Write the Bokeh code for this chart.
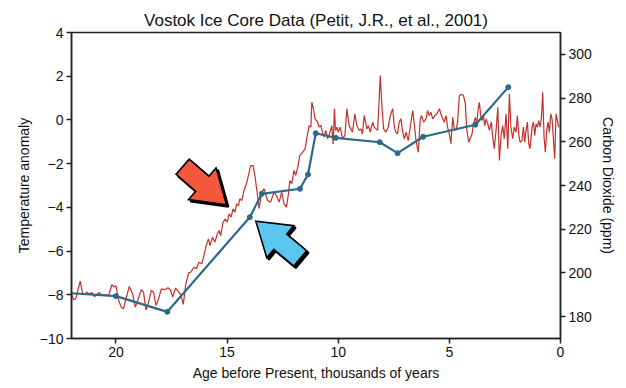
import math
from bokeh.plotting import figure
from bokeh.models import Range1d, LinearAxis, FixedTicker
from bokeh.embed import file_html
from bokeh.resources import INLINE

# ---------------- data ----------------
# Temperature anomaly (deg C) vs age (thousands of years before present)
temp_age = [22.0, 21.91, 21.81, 21.61, 21.50, 21.38, 21.31, 21.20, 21.09, 20.96, 20.78, 20.64,
            20.45, 20.33, 20.18, 20.09, 20.00, 19.88, 19.76, 19.66, 19.55, 19.40, 19.25, 19.13,
            19.01, 18.86, 18.76, 18.65, 18.53, 18.41, 18.31, 18.20, 18.08, 17.96, 17.81, 17.66,
            17.55, 17.45, 17.32, 17.09, 16.97, 16.86, 16.73, 16.64, 16.49, 16.38, 16.27, 16.14,
            16.04, 15.96, 15.84, 15.77, 15.66, 15.55, 15.44, 15.36, 15.29, 15.18, 15.09, 14.99,
            14.91, 14.82, 14.73, 14.64, 14.57, 14.49, 14.43, 14.34, 14.24, 14.13, 14.04, 13.94,
            13.83, 13.74, 13.68, 13.56, 13.44, 13.34, 13.18, 13.04, 12.89, 12.78, 12.66, 12.54,
            12.44, 12.33, 12.24, 12.18, 12.09, 11.99, 11.91, 11.82, 11.73, 11.61, 11.49, 11.38,
            11.31, 11.23, 11.19, 11.13, 11.04, 10.93, 10.86, 10.78, 10.71, 10.64, 10.56, 10.48,
            10.41, 10.29, 10.23, 10.17, 10.12, 10.06, 10.00, 9.91, 9.81, 9.70, 9.61, 9.51,
            9.43, 9.36, 9.25, 9.16, 9.06, 8.98, 8.91, 8.83, 8.71, 8.64, 8.56, 8.45,
            8.38, 8.23, 8.16, 8.11, 8.05, 7.96, 7.86, 7.75, 7.66, 7.55, 7.48, 7.41,
            7.33, 7.26, 7.18, 7.10, 7.03, 6.95, 6.85, 6.76, 6.65, 6.58, 6.50, 6.40,
            6.31, 6.25, 6.16, 6.05, 5.98, 5.91, 5.83, 5.75, 5.65, 5.56, 5.45, 5.38,
            5.30, 5.23, 5.15, 5.08, 4.99, 4.93, 4.85, 4.78, 4.70, 4.63, 4.55, 4.48,
            4.37, 4.28, 4.22, 4.13, 4.07, 3.98, 3.92, 3.83, 3.77, 3.71, 3.65, 3.59,
            3.53, 3.47, 3.41, 3.35, 3.27, 3.20, 3.11, 3.05, 2.98, 2.90, 2.82, 2.75,
            2.68, 2.60, 2.53, 2.45, 2.37, 2.30, 2.23, 2.15, 2.08, 2.00, 1.94, 1.88,
            1.82, 1.73, 1.67, 1.61, 1.55, 1.49, 1.43, 1.37, 1.28, 1.22, 1.16, 1.10,
            1.04, 0.98, 0.92, 0.86, 0.80, 0.74, 0.68, 0.62, 0.56, 0.50, 0.44, 0.38,
            0.32, 0.26, 0.20, 0.14, 0.08]
temp_anomaly = [-7.94, -8.23, -8.18, -7.38, -7.93, -7.96, -7.88, -7.96, -7.90, -8.08, -7.90, -8.00,
                -8.00, -8.03, -7.53, -7.65, -7.58, -8.26, -8.57, -8.64, -8.18, -7.62, -7.96, -8.57,
                -8.23, -7.77, -7.88, -8.69, -8.34, -7.80, -7.88, -8.49, -8.18, -7.73, -7.77, -7.68,
                -7.77, -8.11, -7.70, -7.98, -8.44, -7.53, -7.00, -6.97, -6.74, -6.81, -6.51, -6.58,
                -6.20, -5.82, -5.44, -5.75, -5.37, -5.59, -5.21, -5.06, -5.29, -4.68, -4.53, -4.68,
                -4.30, -4.45, -4.07, -4.22, -3.84, -3.92, -3.61, -3.69, -3.23, -2.92, -2.54, -2.09,
                -2.09, -2.62, -3.08, -4.05, -3.31, -3.15, -3.69, -3.76, -3.31, -3.46, -3.76, -3.31,
                -3.84, -3.99, -3.38, -2.77, -2.92, -2.31, -2.54, -2.16, -1.63, -1.48, -1.32, -0.64,
                -0.26, -0.33, 0.81, 0.58, 0.05, -0.10, -0.33, -0.25, -0.56, -0.79, -0.48, -0.86,
                -0.71, -0.26, -1.10, 0.51, -0.48, -0.33, -0.56, -0.33, -0.86, -0.71, 0.51, -0.26,
                -0.41, -0.56, 0.28, -0.26, -0.48, -0.41, -0.64, 0.20, -0.41, -0.26, -0.56, -0.10,
                -0.33, -0.48, 0.89, 2.03, 0.89, -0.41, -0.56, -0.33, 0.20, 0.51, -0.26, -0.56,
                -0.64, -0.10, 0.05, -0.56, -0.86, -0.56, -0.94, -0.33, 0.43, -0.18, -0.94, -1.48,
                0.05, 0.20, -0.10, 0.05, 0.43, 0.20, 0.35, 0.05, 0.20, 0.28, 0.51, 0.28,
                0.05, -0.10, 0.20, -0.33, -0.71, -1.09, 0.12, -0.41, -0.48, -0.10, 1.12, 1.16,
                1.14, 0.74, -0.41, -1.02, -0.86, -0.64, -0.18, 0.12, -0.18, 0.43, 0.81, 0.20,
                -0.03, 0.20, -0.26, 0.05, -0.18, -0.48, -0.10, -0.79, -1.32, -0.48, 0.58, -1.86,
                -0.79, -0.26, -0.86, 0.28, -1.32, 1.19, -0.33, -0.86, -0.33, -0.56, 0.20, -0.64,
                -1.02, -0.94, -0.33, -1.02, -0.48, -0.10, -1.09, -1.32, -0.33, -0.10, -0.71, -0.18,
                -0.33, -0.03, -0.33, 0.05, 1.27, -0.79, -1.48, -0.48, -0.10, -0.56, 0.28, 0.05,
                -0.86, -1.78, 0.28, -0.03, -0.33]

# Carbon dioxide (ppm) vs age (thousands of years before present)
co2_age = [22.0, 20.0, 17.69, 13.98, 13.44, 11.72, 11.36, 11.01, 10.11, 8.13, 7.33, 6.18, 3.83, 2.35]
co2_ppm = [190.7, 189.4, 182.2, 225.5, 236.2, 238.5, 245.0, 263.9, 261.8, 259.8, 254.8, 262.3, 267.8, 285.0]

x_ticks = [20, 15, 10, 5, 0]
temp_ticks = [4, 2, 0, -2, -4, -6, -8, -10]
co2_ticks = [180, 200, 220, 240, 260, 280, 300]

# annotation arrows: tip position (age, temperature), pointing direction (deg, screen), fill colour
arrow_tips = [(15.03, -3.88), (13.71, -4.63)]
arrow_back_dirs = [221.0, 40.0]   # direction from tip toward tail, screen degrees (y down)
arrow_colors = ["#f4583c", "#5bc7f1"]
# arrow outline template in pixels: u along tail direction, v across
arrow_u = [0, 32, 32, 58, 58, 32, 32]
arrow_v = [0, 21, 10, 10, -10, -10, -21]

FONT = "Liberation Sans"
FW, FH = 489, 306
X0, X1 = 22, 0
Y0, Y1 = -10, 4

p = figure(width=618, height=380, frame_width=FW, frame_height=FH,
           x_range=Range1d(X0, X1), y_range=Range1d(Y0, Y1),
           output_backend="svg", toolbar_location=None,
           min_border_left=71, min_border_right=58, min_border_top=32, min_border_bottom=42,
           title="Vostok Ice Core Data (Petit, J.R., et al., 2001)")
p.extra_y_ranges = {"co2": Range1d(170, 310)}

p.title.align = "center"
p.title.text_font = FONT
p.title.text_font_size = "17px"
p.title.text_font_style = "normal"
p.title.text_color = "#111111"
p.title.standoff = 6
p.grid.visible = False
p.background_fill_color = "white"
p.border_fill_color = "white"
p.outline_line_color = "#222222"
p.outline_line_width = 1.5

# temperature line
p.line(temp_age, temp_anomaly, line_color="#c4302b", line_width=1.2)

# CO2 line with points
p.line(co2_age, co2_ppm, y_range_name="co2", line_color="#2c6a8c", line_width=2.2)
p.scatter(co2_age[1:], co2_ppm[1:], y_range_name="co2", size=5, color="#2c6a8c")

# arrows
pxk = FW / (X0 - X1)
pxt = FH / (Y1 - Y0)
for (ta, tt), ang, col in zip(arrow_tips, arrow_back_dirs, arrow_colors):
    dx, dy = math.cos(math.radians(ang)), math.sin(math.radians(ang))
    sxs = [u * dx - v * dy for u, v in zip(arrow_u, arrow_v)]
    sys_ = [u * dy + v * dx for u, v in zip(arrow_u, arrow_v)]
    xs = [ta - sx / pxk for sx in sxs]
    ys = [tt - sy / pxt for sy in sys_]
    xs_sh = [ta - (sx + 2.0) / pxk for sx in sxs]
    ys_sh = [tt - (sy + 2.0) / pxt for sy in sys_]
    p.patch(xs_sh, ys_sh, fill_color="black", line_color="black", line_width=2)
    p.patch(xs, ys, fill_color=col, line_color="black", line_width=1.6, line_join="miter")

# axes styling
def style_axis(ax, ticks, nminor, label):
    ax.ticker = FixedTicker(ticks=ticks, num_minor_ticks=nminor)
    ax.axis_label = label
    ax.axis_label_text_font = FONT
    ax.axis_label_text_font_size = "14px"
    ax.axis_label_text_font_style = "normal"
    ax.axis_label_text_color = "#111111"
    ax.axis_label_standoff = 5
    ax.major_label_text_font = FONT
    ax.major_label_text_font_size = "14px"
    ax.major_label_text_color = "#111111"
    ax.major_label_standoff = 3
    ax.major_tick_out = 5
    ax.major_tick_in = 0
    ax.minor_tick_out = 3
    ax.minor_tick_in = 0
    ax.axis_line_width = 1.5
    ax.axis_line_color = "#222222"
    ax.major_tick_line_color = "#222222"
    ax.major_tick_line_width = 1.5
    ax.minor_tick_line_color = "#222222"
    ax.minor_tick_line_width = 1.5

xax = p.xaxis[0]
style_axis(xax, x_ticks, 5, "Age before Present, thousands of years")
yax = p.yaxis[0]
style_axis(yax, temp_ticks, 2, "Temperature anomaly")
yax.major_label_overrides = {t: ("\u2212" + str(-t) if t < 0 else str(t)) for t in temp_ticks}

rax = LinearAxis(y_range_name="co2")
style_axis(rax, co2_ticks, 2, "Carbon Dioxide (ppm)")
p.add_layout(rax, "right")

open("out.html", "w").write(file_html(p, INLINE))
